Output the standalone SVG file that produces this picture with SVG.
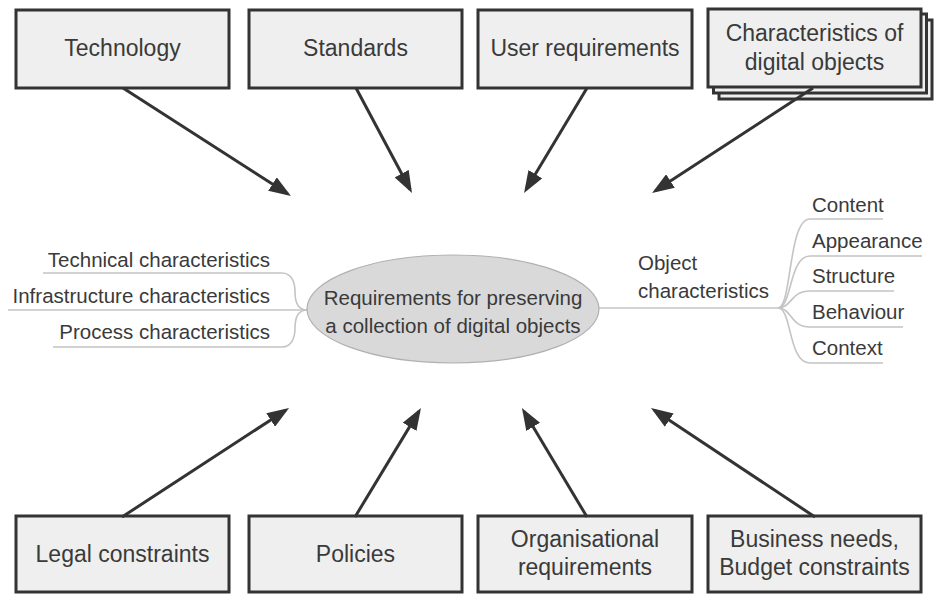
<svg xmlns="http://www.w3.org/2000/svg" width="934" height="594" viewBox="0 0 934 594">
  <defs>
    <marker id="arrow" markerUnits="userSpaceOnUse" markerWidth="22" markerHeight="16" refX="18" refY="8" orient="auto">
      <path d="M0,0 L22,8 L0,16 z" fill="#333"/>
    </marker>
    <style>
      .box { fill: #efefef; stroke: #333; stroke-width: 3; }
      .btxt { font-family: "Liberation Sans", Arial, sans-serif; font-size: 23px; fill: #3a3a3a; text-anchor: middle; }
      .ltxt { font-family: "Liberation Sans", Arial, sans-serif; font-size: 20.5px; fill: #3a3a3a; }
      .brace { fill: none; stroke: #c4c4c4; stroke-width: 1.6; }
      .conn { fill: none; stroke: #333; stroke-width: 3; marker-end: url(#arrow); }
    </style>
  </defs>
  <rect width="934" height="594" fill="#fff"/>

  <!-- side branches (drawn beneath the central ellipse) -->
  <g id="branches">
    <path class="brace" d="M43,273 H282 C292,273 295,283 295,292 C295,303 298,310 307,310"/>
    <path class="brace" d="M8,310 H307"/>
    <path class="brace" d="M53,347 H282 C292,347 295,337 295,328 C295,317 298,310 307,310"/>
    <path class="brace" d="M598,308 H778"/>
    <path class="brace" d="M778,308 C792,308 788,219 810,219 H883"/>
    <path class="brace" d="M778,308 C792,308 789,256 810,256 H922"/>
    <path class="brace" d="M778,308 C792,308 790,291 810,291 H894"/>
    <path class="brace" d="M778,308 C792,308 790,327 810,327 H903"/>
    <path class="brace" d="M778,308 C792,308 788,363 810,363 H883"/>
  </g>

  <g id="left-labels" class="ltxt" text-anchor="end">
    <text x="270" y="267">Technical characteristics</text>
    <text x="270" y="303">Infrastructure characteristics</text>
    <text x="270" y="339">Process characteristics</text>
  </g>

  <g id="object-characteristics" class="ltxt">
    <text x="638" y="270">Object</text>
    <text x="638" y="298">characteristics</text>
    <text x="812" y="212">Content</text>
    <text x="812" y="248">Appearance</text>
    <text x="812" y="283">Structure</text>
    <text x="812" y="319">Behaviour</text>
    <text x="812" y="355">Context</text>
  </g>

  <g id="centre">
    <ellipse cx="453" cy="309" rx="146" ry="54" fill="#d9d9d9" stroke="#b0b0b0" stroke-width="1.2"/>
    <text class="ltxt" x="453" y="305" text-anchor="middle">Requirements for preserving</text>
    <text class="ltxt" x="453" y="333" text-anchor="middle">a collection of digital objects</text>
  </g>

  <!-- top row -->
  <g id="technology">
    <rect class="box" x="16" y="10" width="213" height="78"/>
    <text class="btxt" x="122.5" y="56">Technology</text>
  </g>
  <g id="standards">
    <rect class="box" x="249" y="10" width="213" height="78"/>
    <text class="btxt" x="355.5" y="56">Standards</text>
  </g>
  <g id="user-requirements">
    <rect class="box" x="478" y="10" width="214" height="78"/>
    <text class="btxt" x="585" y="56">User requirements</text>
  </g>
  <g id="digital-objects">
    <rect class="box" x="719" y="20" width="213" height="79"/>
    <rect class="box" x="713.5" y="14" width="213" height="79"/>
    <rect class="box" x="708" y="9" width="213" height="78"/>
    <text class="btxt" x="814.5" y="41">Characteristics of</text>
    <text class="btxt" x="814.5" y="70">digital objects</text>
  </g>

  <!-- bottom row -->
  <g id="legal-constraints">
    <rect class="box" x="16" y="516" width="213" height="76"/>
    <text class="btxt" x="122.5" y="562">Legal constraints</text>
  </g>
  <g id="policies">
    <rect class="box" x="249" y="516" width="213" height="76"/>
    <text class="btxt" x="355.5" y="562">Policies</text>
  </g>
  <g id="organisational-requirements">
    <rect class="box" x="478" y="516" width="214" height="76"/>
    <text class="btxt" x="585" y="547">Organisational</text>
    <text class="btxt" x="585" y="575">requirements</text>
  </g>
  <g id="business-needs">
    <rect class="box" x="708" y="516" width="213" height="76"/>
    <text class="btxt" x="814.5" y="547">Business needs,</text>
    <text class="btxt" x="814.5" y="575">Budget constraints</text>
  </g>

  <g id="connectors">
    <line class="conn" x1="123" y1="88" x2="287.6" y2="193.8"/>
    <line class="conn" x1="356" y1="88" x2="410.1" y2="189.5"/>
    <line class="conn" x1="587" y1="88" x2="526.1" y2="189.6"/>
    <line class="conn" x1="813" y1="88" x2="655.4" y2="190.8"/>
    <line class="conn" x1="122" y1="517" x2="285.7" y2="410.2"/>
    <line class="conn" x1="355" y1="517" x2="418.9" y2="411.4"/>
    <line class="conn" x1="587" y1="517" x2="524.0" y2="411.4"/>
    <line class="conn" x1="815" y1="517" x2="654.3" y2="410.2"/>
  </g>
</svg>
